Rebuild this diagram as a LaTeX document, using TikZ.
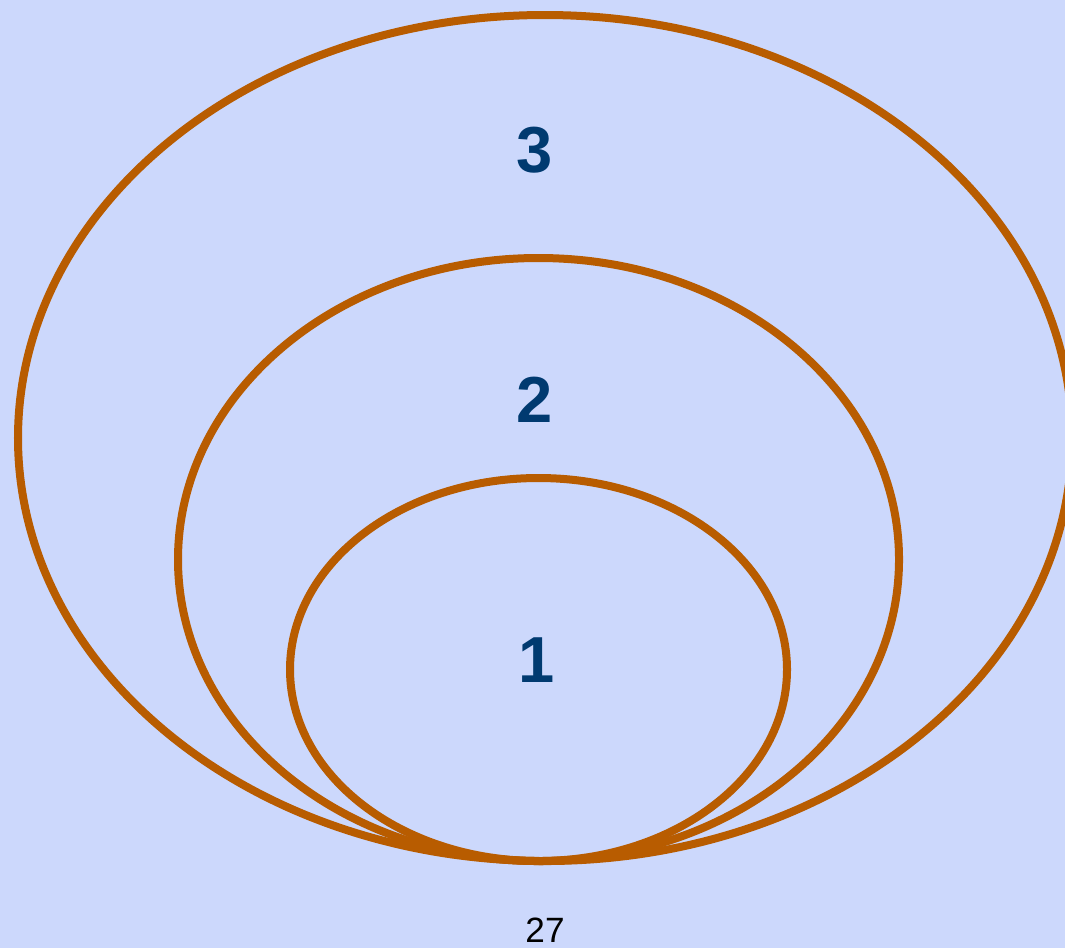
\documentclass[tikz,border=0pt]{standalone}
\usepackage{fontspec}
\setmainfont{Liberation Sans}
\definecolor{bgblue}{HTML}{CCD8FC}
\definecolor{ringorange}{HTML}{B85C00}
\definecolor{lvlblue}{HTML}{003A70}
\begin{document}
\begin{tikzpicture}[
    x=0.01cm, y=-0.01cm,
    ring/.style={line width=0.08cm, ringorange},
    lvl/.style={font=\fontsize{18.5}{20}\selectfont\bfseries, text=lvlblue, inner sep=0pt},
    pagenum/.style={font=\fontsize{10}{12}\selectfont, inner sep=0pt}
  ]
  % Background and frame
  \fill[bgblue] (0,0) rectangle (1065,948);
  \useasboundingbox (0,0) rectangle (1065,948);
  \clip (0,0) rectangle (1065,948);

  % Nested levels
  \draw[ring] (545,438) ellipse [x radius=527, y radius=423];
  \draw[ring] (538.5,559.5) ellipse [x radius=360.5, y radius=301.5];
  \draw[ring] (538.5,669.5) ellipse [x radius=248.5, y radius=191.5];

  % Labels
  \node[lvl] (three) at (535,150) {3};
  \node[lvl] (two) at (535,400) {2};
  \node[lvl] (one) at (537,660) {1};
  \node[pagenum] (page) at (545,930) {27};
\end{tikzpicture}
\end{document}
